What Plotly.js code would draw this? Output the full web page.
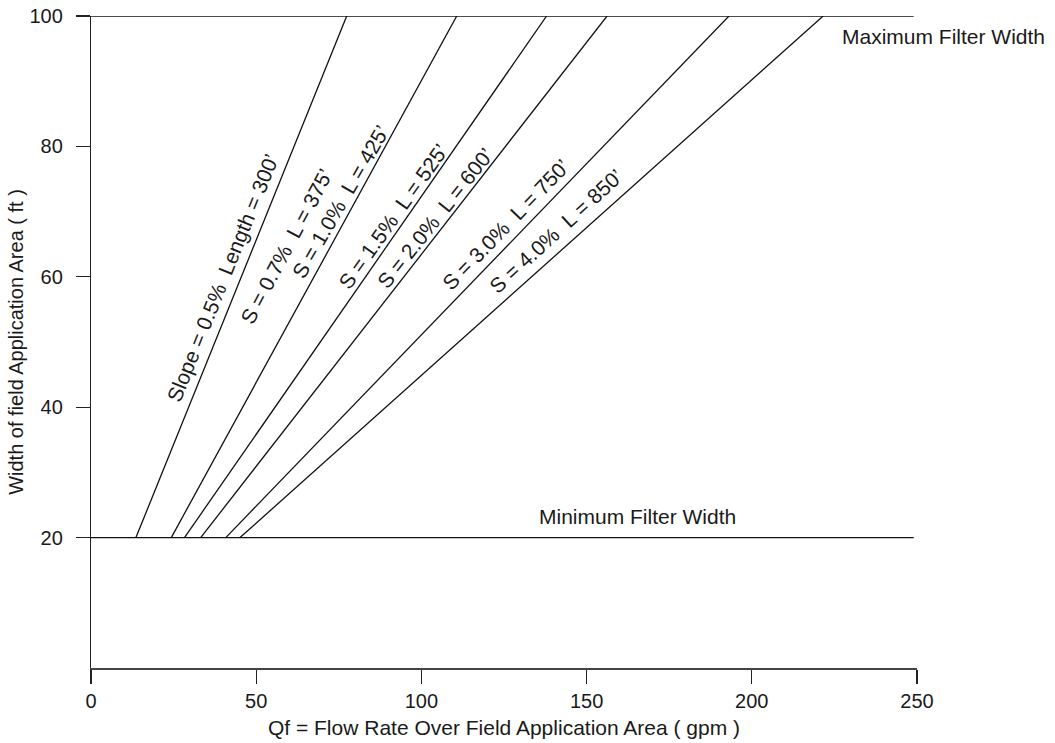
<!DOCTYPE html>
<html>
<head>
<meta charset="utf-8">
<script src="https://cdn.plot.ly/plotly-3.0.1.min.js"></script>
<style>html,body{margin:0;padding:0;background:#fff;}#chart{width:1055px;height:743px;}</style>
</head>
<body>
<div id="chart"></div>
<script>
// Lines: flow rate at minimum width (20 ft) and at maximum width (100 ft)
var widths = [20, 100];
var lineQAtMin = [13.6, 24.3, 28.3, 33.2, 40.8, 45.1];
var lineQAtMax = [77.4, 110.7, 137.9, 156.2, 193.1, 221.6];

// Filter width limits
var limitNames = ["Minimum Filter Width", "Maximum Filter Width"];
var limitWidths = [20, 100];
var limitQRange = [0, 249];

// Line labels
var labelTexts = [
  "Slope = 0.5%\u00a0\u00a0Length = 300\u2019",
  "S = 0.7%\u00a0\u00a0L = 375\u2019",
  "S = 1.0%\u00a0\u00a0L = 425\u2019",
  "S = 1.5%\u00a0\u00a0L = 525\u2019",
  "S = 2.0%\u00a0\u00a0L = 600\u2019",
  "S = 3.0%\u00a0\u00a0L = 750\u2019",
  "S = 4.0%\u00a0\u00a0L = 850\u2019"
];
var labelX = [39.7, 59.2, 75.5, 91.4, 104.0, 125.6, 140.6];
var labelY = [59.8, 64.6, 71.6, 69.3, 69.0, 68.0, 67.0];
var labelAngle = [-68, -62, -60, -54.5, -51.5, -46, -42.5];

var xTicks = [0, 50, 100, 150, 200, 250];
var yTicks = [20, 40, 60, 80, 100];

var FONT = "Liberation Sans, Arial, Helvetica, sans-serif";
var TXT = "#1a1a1a";
var traces = [];
for (var i = 0; i < lineQAtMin.length; i++) {
  traces.push({
    x: [lineQAtMin[i], lineQAtMax[i]],
    y: widths,
    mode: "lines",
    line: {color: "#111", width: 1.3},
    showlegend: false,
    hoverinfo: "skip"
  });
}
for (var j = 0; j < limitWidths.length; j++) {
  traces.push({
    x: limitQRange,
    y: [limitWidths[j], limitWidths[j]],
    mode: "lines",
    line: {color: "#111", width: 1.3},
    showlegend: false,
    name: limitNames[j],
    hoverinfo: "skip"
  });
}

var annotations = [];
for (var k = 0; k < labelTexts.length; k++) {
  annotations.push({
    x: labelX[k], y: labelY[k], xref: "x", yref: "y",
    text: labelTexts[k], showarrow: false, textangle: labelAngle[k],
    xanchor: "center", yanchor: "middle",
    font: {family: FONT, size: 21, color: TXT}
  });
}
annotations.push({
  x: 226.6, y: 96.9, xref: "x", yref: "y", text: limitNames[1],
  showarrow: false, xanchor: "left", yanchor: "middle",
  font: {family: FONT, size: 21, color: TXT}
});
annotations.push({
  x: 165.5, y: 23.2, xref: "x", yref: "y", text: limitNames[0],
  showarrow: false, xanchor: "center", yanchor: "middle",
  font: {family: FONT, size: 21, color: TXT}
});

var layout = {
  width: 1055, height: 743,
  margin: {l: 91, r: 138, t: 16, b: 75, pad: 0},
  paper_bgcolor: "#fff", plot_bgcolor: "#fff",
  font: {family: FONT, size: 20, color: TXT},
  showlegend: false,
  xaxis: {
    range: [0, 250], tickvals: xTicks, ticktext: xTicks.map(String),
    showgrid: false, zeroline: false, showline: true, linecolor: "#444", linewidth: 1.5,
    ticks: "outside", ticklen: 14, tickcolor: "#222", tickwidth: 1.2,
    tickfont: {family: FONT, size: 20, color: TXT},
    title: {text: "Qf = Flow Rate Over Field Application Area ( gpm )", standoff: 10,
            font: {family: FONT, size: 21, color: TXT}}
  },
  yaxis: {
    range: [0, 100], tickvals: yTicks, ticktext: yTicks.map(String),
    showgrid: false, zeroline: false, showline: true, linecolor: "#222", linewidth: 1.2,
    ticks: "outside", ticklen: 14, tickcolor: "#222", tickwidth: 1.2,
    ticklabelstandoff: 9,
    tickfont: {family: FONT, size: 20, color: TXT},
    title: {text: "Width of field Application Area ( ft )", standoff: 0,
            font: {family: FONT, size: 20, color: TXT}}
  },
  annotations: annotations
};

Plotly.newPlot("chart", traces, layout, {staticPlot: true, displayModeBar: false});
</script>
</body>
</html>
